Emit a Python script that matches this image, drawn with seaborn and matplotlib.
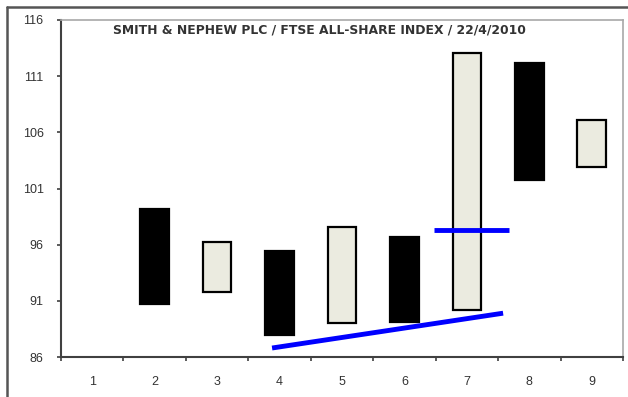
import matplotlib
matplotlib.use("Agg")
import matplotlib.pyplot as plt
from matplotlib.lines import Line2D
import seaborn as sns
import pandas as pd

# Werte
tage = ["1", "2", "3", "4", "5", "6", "7", "8", "9"]
bar_tag = ["2", "3", "4", "5", "6", "7", "8", "9"]
bar_tief = [90.7, 91.8, 88.0, 89.05, 89.1, 90.2, 101.75, 102.95]
bar_hoch = [99.2, 96.25, 95.4, 97.55, 96.65, 113.1, 112.15, 107.1]
bar_art = ["down", "up", "down", "up", "down", "up", "down", "up"]

# blaue Linien (x in Kategorie-Positionen, 0 = Tag 1)
trend_x = [2.88, 6.58]
trend_y = [86.8, 89.9]
level_x = [5.47, 6.67]
level_y = [97.35, 97.35]

y_ticks = [86, 91, 96, 101, 106, 111, 116]
titel = "SMITH & NEPHEW PLC / FTSE ALL-SHARE INDEX / 22/4/2010"

df = pd.DataFrame({"tag": bar_tag, "tief": bar_tief, "hoch": bar_hoch, "art": bar_art})
df["spanne"] = df["hoch"] - df["tief"]

sns.set_style("white")
plt.rcParams["font.family"] = ["Liberation Sans", "DejaVu Sans"]

fig = plt.figure(figsize=(6.28, 3.97), dpi=100)
ax = fig.add_axes([61 / 628, 1 - 357 / 397, 562 / 628, 337 / 397])

farben = {"down": "black", "up": "#ebebe0"}
for art, farbe in farben.items():
    sub = df[df["art"] == art]
    sns.barplot(x="tag", y="spanne", data=sub, order=tage, bottom=sub["tief"].values,
                color=farbe, saturation=1, width=0.46, edgecolor="black",
                linewidth=1.6, errorbar=None, ax=ax)

ax.plot(trend_x, trend_y, color="#0000ff", lw=3.5, solid_capstyle="butt")
ax.plot(level_x, level_y, color="#0000ff", lw=3.5, solid_capstyle="butt")

ax.set_xlim(-0.5, 8.5)
ax.set_ylim(86, 116)
ax.set_yticks(y_ticks)
ax.set_xticks(range(len(tage)))
ax.set_xticklabels(tage)
ax.set_xticks([i - 0.5 for i in range(len(tage) + 1)], minor=True)
ax.tick_params(axis="x", which="major", bottom=True, length=0, pad=14, labelsize=9,
               labelcolor="#333333")
ax.tick_params(axis="x", which="minor", bottom=True, length=3, width=1.2,
               color="#404040", direction="out")
ax.tick_params(axis="y", left=True, length=3, width=1.2, color="#404040", direction="out",
               pad=9.5, labelsize=9, labelcolor="#333333")
ax.set_xlabel("")
ax.set_ylabel("")

for s in ["left", "bottom"]:
    ax.spines[s].set_color("#404040")
    ax.spines[s].set_linewidth(1.5)
for s in ["top", "right"]:
    ax.spines[s].set_color("#a8a8a8")
    ax.spines[s].set_linewidth(1.2)

ax.text((113 - 61) / 562, 0.99, titel, transform=ax.transAxes, family="DejaVu Sans",
        fontsize=8.9, fontweight="bold", color="#333333", va="top", ha="left")

# äußerer Rahmen
fig.add_artist(Line2D([7 / 628, 7 / 628], [0, 1 - 7 / 397], color="#555555", lw=1.8))
fig.add_artist(Line2D([7 / 628, 1], [1 - 7 / 397, 1 - 7 / 397], color="#555555", lw=1.8))

fig.savefig("out.png", dpi=100)
